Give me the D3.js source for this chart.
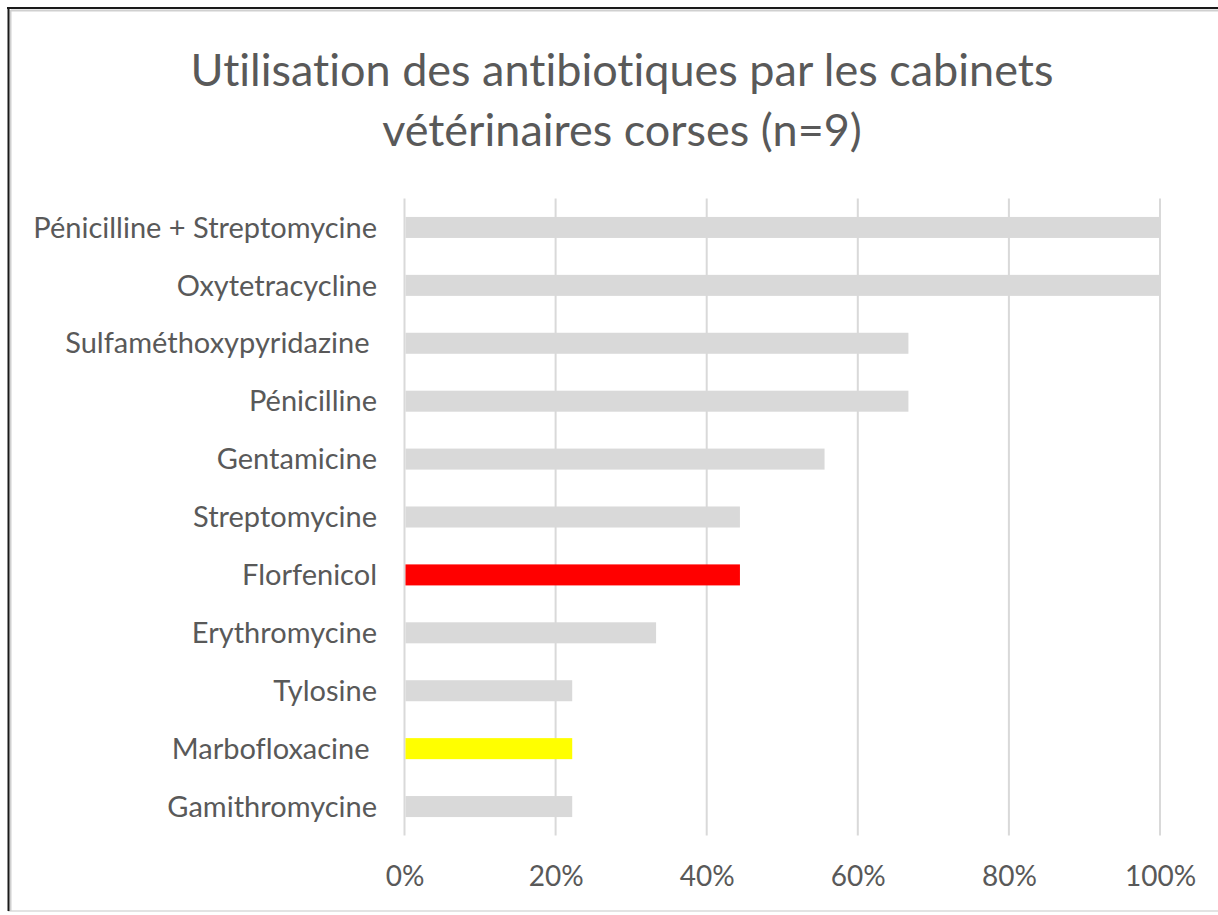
<!DOCTYPE html>
<html>
<head>
<meta charset="utf-8">
<script src="https://cdn.jsdelivr.net/npm/d3@7"></script>
<style>
  html, body { margin: 0; padding: 0; background: #fff; }
  svg { display: block; }
  text { font-family: Lato, "Open Sans", sans-serif; fill: #595959; font-variant-ligatures: none; }
</style>
</head>
<body>
<svg id="chart" width="1218" height="915"></svg>
<script>
// ---- data ----
const categories = [
  "Pénicilline + Streptomycine",
  "Oxytetracycline",
  "Sulfaméthoxypyridazine ",
  "Pénicilline",
  "Gentamicine",
  "Streptomycine",
  "Florfenicol",
  "Erythromycine",
  "Tylosine",
  "Marbofloxacine ",
  "Gamithromycine"
];
const values = [1.0, 1.0, 0.667, 0.667, 0.556, 0.444, 0.444, 0.333, 0.222, 0.222, 0.222];
const tickValues = [0, 0.2, 0.4, 0.6, 0.8, 1.0];
const titleLines = ["Utilisation des antibiotiques par les cabinets", "vétérinaires corses (n=9)"];
const highlight = { "Florfenicol": "#ff0000", "Marbofloxacine ": "#ffff00" };

// ---- layout ----
const svg = d3.select("#chart");
const W = 1218, H = 915;

// frame
svg.append("line").attr("x1", 8).attr("y1", 911).attr("x2", W).attr("y2", 911)
  .attr("stroke", "#e3e3e3").attr("stroke-width", 2);
svg.append("line").attr("x1", 11).attr("y1", 10.5).attr("x2", W).attr("y2", 10.5)
  .attr("stroke", "#d0d0d0").attr("stroke-width", 2);
svg.append("line").attr("x1", 10.5).attr("y1", 10).attr("x2", 10.5).attr("y2", 911)
  .attr("stroke", "#d0d0d0").attr("stroke-width", 2);
svg.append("line").attr("x1", 7).attr("y1", 8).attr("x2", W).attr("y2", 8)
  .attr("stroke", "#1a1a1a").attr("stroke-width", 2);
svg.append("line").attr("x1", 8.5).attr("y1", 7).attr("x2", 8.5).attr("y2", 911)
  .attr("stroke", "#1a1a1a").attr("stroke-width", 2);

const x = d3.scaleLinear().domain([0, 1]).range([404.5, 1160]);
const y = d3.scaleBand().domain(categories).range([198.5, 835.5])
  .paddingInner(0.637).paddingOuter(0.3185);

// gridlines
svg.append("g").selectAll("line").data(tickValues).join("line")
  .attr("x1", d => x(d)).attr("x2", d => x(d))
  .attr("y1", 198.5).attr("y2", 835.5)
  .attr("stroke", "#d9d9d9").attr("stroke-width", 2);

// bars
svg.append("g").selectAll("rect").data(categories).join("rect")
  .attr("x", x(0) + 1)
  .attr("y", d => y(d))
  .attr("width", (d, i) => x(values[i]) - x(0) - 1)
  .attr("height", y.bandwidth())
  .attr("fill", d => highlight[d] || "#d9d9d9");

// category axis labels
const yAxis = d3.axisLeft(y).tickSize(0).tickPadding(0);
const gy = svg.append("g").attr("transform", "translate(377,0)").call(yAxis);
gy.select(".domain").remove();
gy.selectAll("text")
  .attr("fill", "#595959")
  .style("font-family", "Lato, 'Open Sans', sans-serif")
  .style("font-size", "29px")
  .style("white-space", "pre")
  .style("font-variant-ligatures", "none")
  .attr("dy", "0.35em");

// value axis labels
const xAxis = d3.axisBottom(x).tickValues(tickValues).tickFormat(d3.format(".0%")).tickSize(0).tickPadding(0);
const gx = svg.append("g").attr("transform", "translate(0,866)").call(xAxis);
gx.select(".domain").remove();
gx.selectAll("text")
  .attr("fill", "#595959")
  .style("font-family", "Lato, 'Open Sans', sans-serif")
  .style("font-size", "28px")
  .attr("dy", "0.71em");

// title
svg.append("g").selectAll("text").data(titleLines).join("text")
  .attr("x", 622)
  .attr("y", (d, i) => 86 + i * 60)
  .attr("text-anchor", "middle")
  .style("font-size", "45px")
  .text(d => d);
</script>
</body>
</html>
